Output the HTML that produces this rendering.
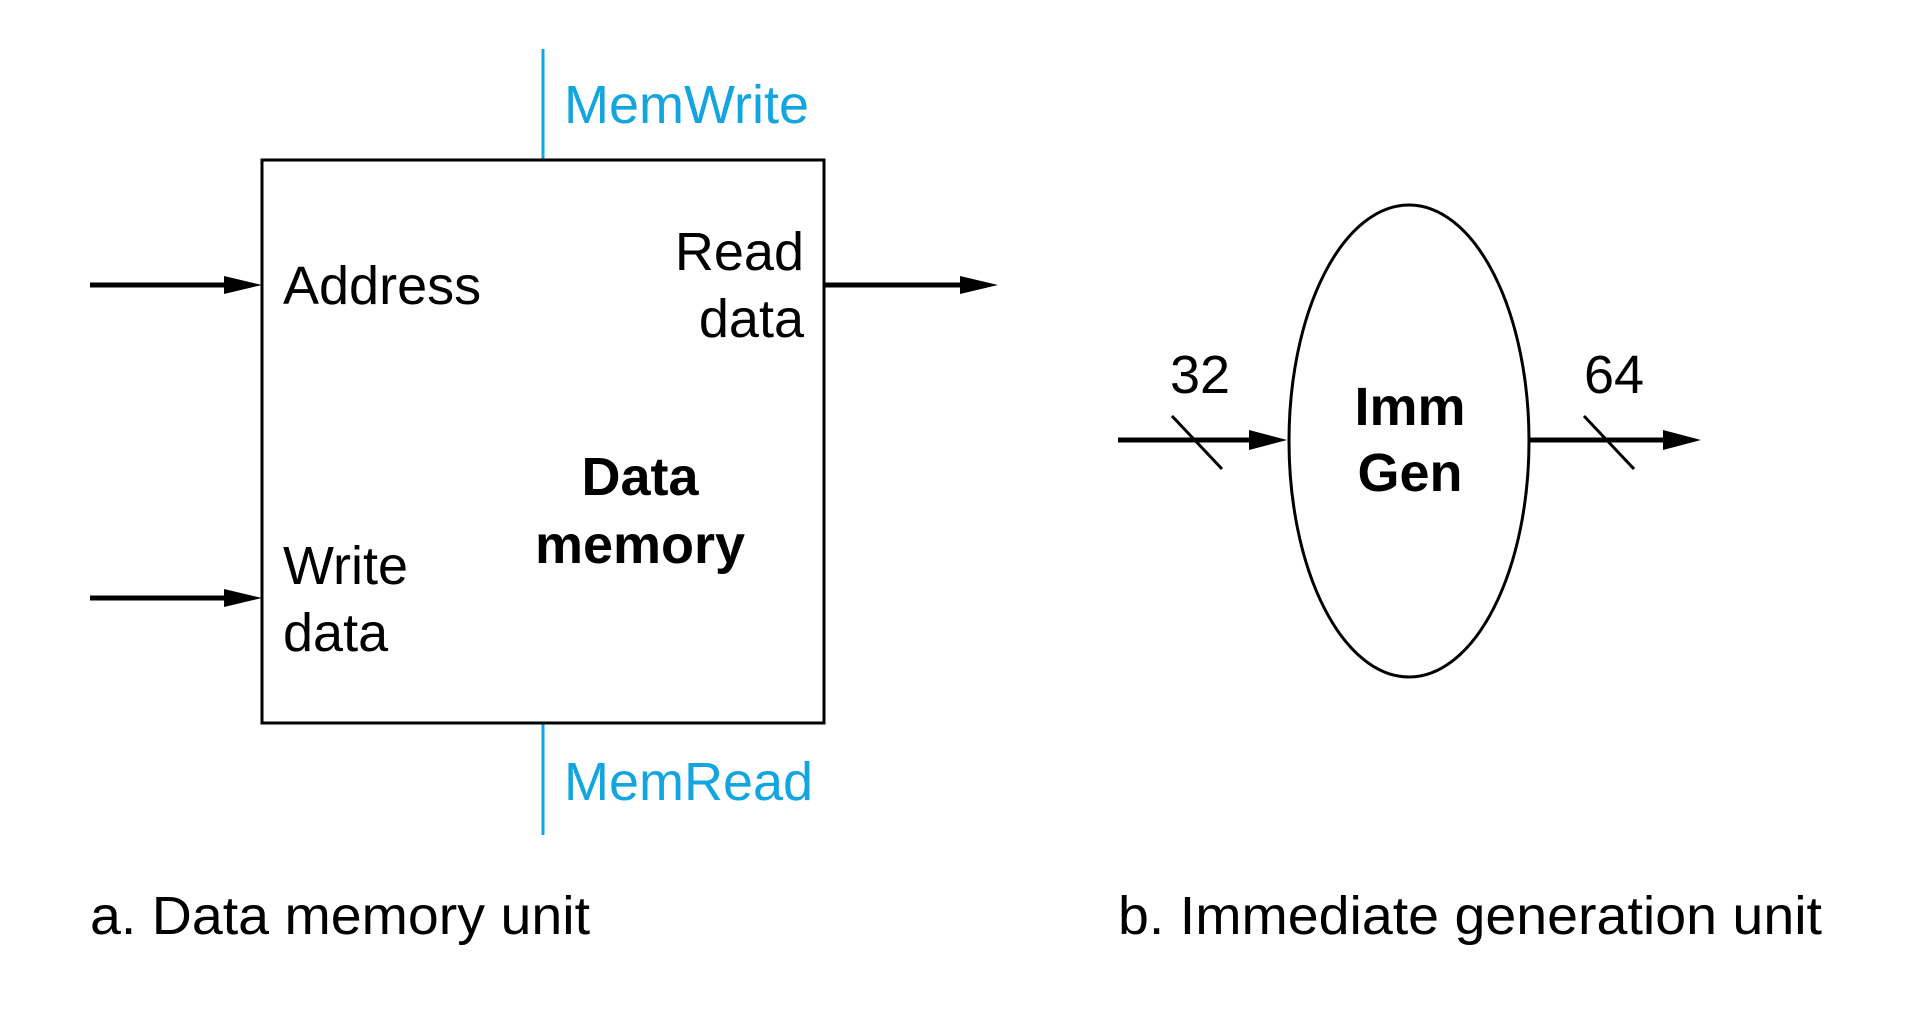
<!DOCTYPE html>
<html><head><meta charset="utf-8"><style>
html,body{margin:0;padding:0;background:#fff;}
svg text{font-family:"Liberation Sans",Arial,sans-serif;}
</style></head><body>
<svg width="1920" height="1024" viewBox="0 0 1920 1024" xmlns="http://www.w3.org/2000/svg">
<rect width="1920" height="1024" fill="#fff"/>
<line x1="543" y1="49" x2="543" y2="160" stroke="#12a5e0" stroke-width="3"/>
<line x1="543" y1="723" x2="543" y2="835" stroke="#12a5e0" stroke-width="3"/>
<text x="564" y="123" font-size="54" fill="#12a5e0">MemWrite</text>
<text x="564" y="800" font-size="54" fill="#12a5e0">MemRead</text>
<rect x="262" y="160" width="562" height="563" fill="none" stroke="#000" stroke-width="3"/>
<g stroke="#000" stroke-width="5" fill="none">
<line x1="90" y1="285" x2="228" y2="285"/>
<line x1="90" y1="598" x2="228" y2="598"/>
<line x1="825" y1="285" x2="962" y2="285"/>
<line x1="1118" y1="440" x2="1250" y2="440"/>
<line x1="1530" y1="440" x2="1664" y2="440"/>
</g>
<g fill="#000">
<path d="M224,276 L262,285 L224,294 z"/>
<path d="M224,589 L262,598 L224,607 z"/>
<path d="M960,276 L998,285 L960,294 z"/>
<path d="M1249,430 L1287,440 L1249,450 z"/>
<path d="M1663,430 L1701,440 L1663,450 z"/>
</g>
<g stroke="#000" stroke-width="3">
<line x1="1172" y1="416" x2="1222" y2="469"/>
<line x1="1584" y1="416" x2="1634" y2="469"/>
</g>
<ellipse cx="1409" cy="441" rx="120" ry="236" fill="none" stroke="#000" stroke-width="3"/>
<g font-size="54" fill="#000">
<text x="283" y="304">Address</text>
<text x="804" y="270" text-anchor="end">Read</text>
<text x="804" y="337" text-anchor="end">data</text>
<text x="283" y="584">Write</text>
<text x="283" y="651">data</text>
<text x="640" y="495" text-anchor="middle" font-weight="bold">Data</text>
<text x="640" y="563" text-anchor="middle" font-weight="bold">memory</text>
<text x="1410" y="425" text-anchor="middle" font-weight="bold">Imm</text>
<text x="1410" y="491" text-anchor="middle" font-weight="bold">Gen</text>
<text x="1200" y="393" text-anchor="middle">32</text>
<text x="1614" y="393" text-anchor="middle">64</text>
<text x="90" y="934" textLength="500" lengthAdjust="spacingAndGlyphs">a. Data memory unit</text>
<text x="1118" y="934" textLength="704" lengthAdjust="spacingAndGlyphs">b. Immediate generation unit</text>
</g>
</svg>
</body></html>
